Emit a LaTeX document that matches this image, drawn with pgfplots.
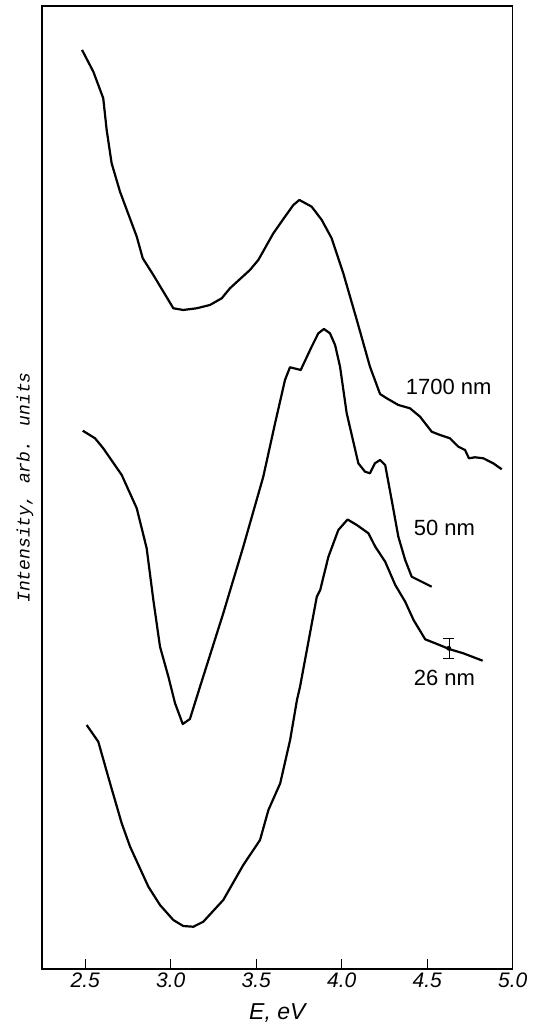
\documentclass[border=0pt]{standalone}
\usepackage{fontspec}
\setmainfont{Liberation Sans}
\newfontfamily\monofont{Liberation Mono}
\usepackage{pgfplots}
\pgfplotsset{compat=1.18}

\begin{document}
\begin{tikzpicture}
\begin{axis}[
    scale only axis,
    width=470.7pt, height=963pt,
    xmin=2.2467, xmax=5.0, ymin=58, ymax=1021,
    xtick={2.5,3.0,3.5,4.0,4.5,5.0},
    xticklabels={2.5,3.0,3.5,4.0,4.5,5.0},
    xtick pos=bottom,
    ytick=\empty,
    tick align=inside,
    major tick length=10pt,
    every tick/.style={black, line width=1.2pt},
    axis line style={line width=1.2pt},
    /pgf/number format/assume math mode=true,
    xticklabel style={font=\itshape\fontsize{21}{21}\selectfont},
    xlabel={\itshape E, eV},
    xlabel style={font=\fontsize{23}{23}\selectfont, at={(axis description cs:0.5,-0.046)}, anchor=center},
    ylabel={\monofont\itshape Intensity, arb. units},
    ylabel style={font=\fontsize{18}{18}\selectfont, at={(axis description cs:-0.036,0.5)}, anchor=center},
    clip=false,
]
% 1700 nm
\addplot[black, line width=2.2pt, line join=round] coordinates {
(2.481,977) (2.547,955.3) (2.605,928.7) (2.625,897) (2.654,863.7) (2.703,835.3)
(2.801,790.3) (2.836,768.7) (2.898,752) (3.015,718.7) (3.073,717) (3.152,718.7)
(3.229,722) (3.298,728.7) (3.346,738.7) (3.463,757) (3.512,767) (3.600,793.7)
(3.668,810.3) (3.717,822) (3.752,827) (3.824,820.3) (3.883,807) (3.941,788.7)
(4.009,753.7) (4.088,707) (4.165,660.3) (4.224,633) (4.263,628.7) (4.331,622)
(4.399,618.7) (4.458,610.3) (4.526,595.3) (4.575,592) (4.633,588.7) (4.682,580.3)
(4.721,577) (4.744,568.7) (4.779,569.7) (4.828,568.7) (4.886,563.7) (4.936,557.7)
};
% 50 nm
\addplot[black, line width=2.2pt, line join=round] coordinates {
(2.485,596.3) (2.557,588.7) (2.605,578.7) (2.713,552) (2.801,518.7) (2.859,478.7)
(2.898,427) (2.937,380.3) (2.986,350.3) (3.025,323.7) (3.070,303) (3.112,308)
(3.171,340.3) (3.307,413.7) (3.424,480.3) (3.541,550.3) (3.610,603.7) (3.668,647)
(3.697,659.7) (3.760,657) (3.824,680.3) (3.863,693.7) (3.896,698) (3.931,693.7)
(3.961,682) (3.990,660.3) (4.029,613.7) (4.097,563.7) (4.136,555.3) (4.165,553.7)
(4.194,563.7) (4.224,567) (4.254,562) (4.292,527) (4.331,490.3) (4.371,467)
(4.409,450.3) (4.526,440.3)
};
% 26 nm
\addplot[black, line width=2.2pt, line join=round] coordinates {
(2.508,302) (2.576,285.3) (2.645,243.7) (2.713,203.7) (2.762,180.3) (2.869,140.3)
(2.937,122) (3.015,107) (3.073,101) (3.132,100.3) (3.190,105.3) (3.307,127)
(3.424,162) (3.522,187) (3.571,217) (3.640,243.7) (3.698,287) (3.738,327)
(3.756,340.3) (3.854,430.3) (3.874,437) (3.922,470.3) (3.980,497) (4.034,507.5)
(4.088,502) (4.156,493.7) (4.196,480.3) (4.254,465.3) (4.313,442) (4.371,425.3)
(4.420,407) (4.488,387.7) (4.557,383) (4.633,377.7) (4.711,373.7) (4.824,366.3)
};
% error bar
\addplot[black, only marks, mark=none, line width=0.8pt,
    error bars/.cd, y dir=both, y explicit,
    error mark options={black, line width=0.8pt, mark size=5.5pt, rotate=90}]
    coordinates {(4.626,378.7) +- (0,10)};
\node[font=\fontsize{22}{22}\selectfont] at (axis cs:4.625,640) {1700 nm};
\node[font=\fontsize{22}{22}\selectfont] at (axis cs:4.601,499) {50 nm};
\node[font=\fontsize{22}{22}\selectfont] at (axis cs:4.601,349) {26 nm};
\coordinate (bbsw) at (rel axis cs:-0.0892,-0.0602);
\coordinate (bbne) at (rel axis cs:1.0580,1.0062);
\end{axis}
\path (bbsw) rectangle (bbne);
\end{tikzpicture}
\end{document}
